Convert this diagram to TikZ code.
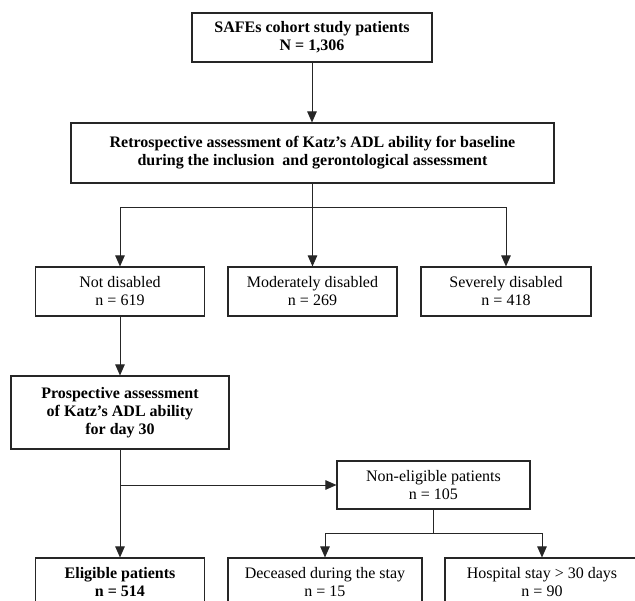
\documentclass[tikz,border=0pt]{standalone}
\usepackage{fontspec}
\setmainfont{Liberation Serif}
\usetikzlibrary{arrows.meta}
\definecolor{ln}{gray}{0.15}
\tikzset{
  box/.style={draw=ln, line width=1.1pt, inner sep=0pt, align=center, anchor=center,
    font=\fontsize{16}{18}\selectfont},
  bbox/.style={box, font=\fontsize{16}{18}\selectfont\bfseries},
  conn/.style={draw=ln, line width=0.9pt},
  arr/.style={conn, -{Triangle[length=11pt,width=9.5pt]}}
}
\begin{document}
\begin{tikzpicture}[x=1pt,y=-1pt]
\useasboundingbox (0,0) rectangle (635,601);
\clip (0,0) rectangle (635,601);
\fill[white] (0,0) rectangle (635,601);
% boxes
\node[bbox, minimum width=240pt, minimum height=49pt] (A) at (312,37.5) {SAFEs cohort study patients\\N = 1,306};
\node[bbox, minimum width=483pt, minimum height=60pt] (B) at (312.5,153) {Retrospective assessment of Katz’s ADL ability for baseline\\during the inclusion~ and gerontological assessment};
\node[box, minimum width=169pt, minimum height=49pt] (C1) at (120,291.5) {Not disabled\\n = 619};
\node[box, minimum width=169pt, minimum height=49pt] (C2) at (312.5,291.5) {Moderately disabled\\n = 269};
\node[box, minimum width=170pt, minimum height=49pt] (C3) at (506,291.5) {Severely disabled\\n = 418};
\node[bbox, minimum width=218pt, minimum height=73pt] (D) at (120,412.5) {Prospective assessment\\of Katz’s ADL ability\\for day 30};
\node[box, minimum width=193pt, minimum height=48pt] (E) at (433.5,485) {Non-eligible patients\\n = 105};
\node[bbox, minimum width=169pt, minimum height=49pt] (F1) at (120,582.5) {Eligible patients\\n = 514};
\node[box, minimum width=194pt, minimum height=49pt] (F2) at (325,582.5) {Deceased during the stay\\n = 15};
\node[box, minimum width=194pt, minimum height=49pt] (F3) at (542,582.5) {Hospital stay > 30 days\\n = 90};
% connectors
\draw[arr] (A.south) -- (B.north -| A.south);
\coordinate (b1) at (312.5,207);
\draw[arr] (B.south) -- (C2.north);
\draw[arr] (b1) -| (C1.north);
\draw[arr] (b1) -| (C3.north);
\draw[arr] (C1.south) -- (D.north);
\draw[arr] (D.south) -- (F1.north);
\coordinate (d1) at (D.south |- E.west);
\draw[arr] (d1) -- (E.west);
\coordinate (e1) at (433.5,533);
\draw[conn] (E.south) -- (e1);
\draw[arr] (e1) -| (F2.north);
\draw[arr] (e1) -| (F3.north);
\end{tikzpicture}
\end{document}
